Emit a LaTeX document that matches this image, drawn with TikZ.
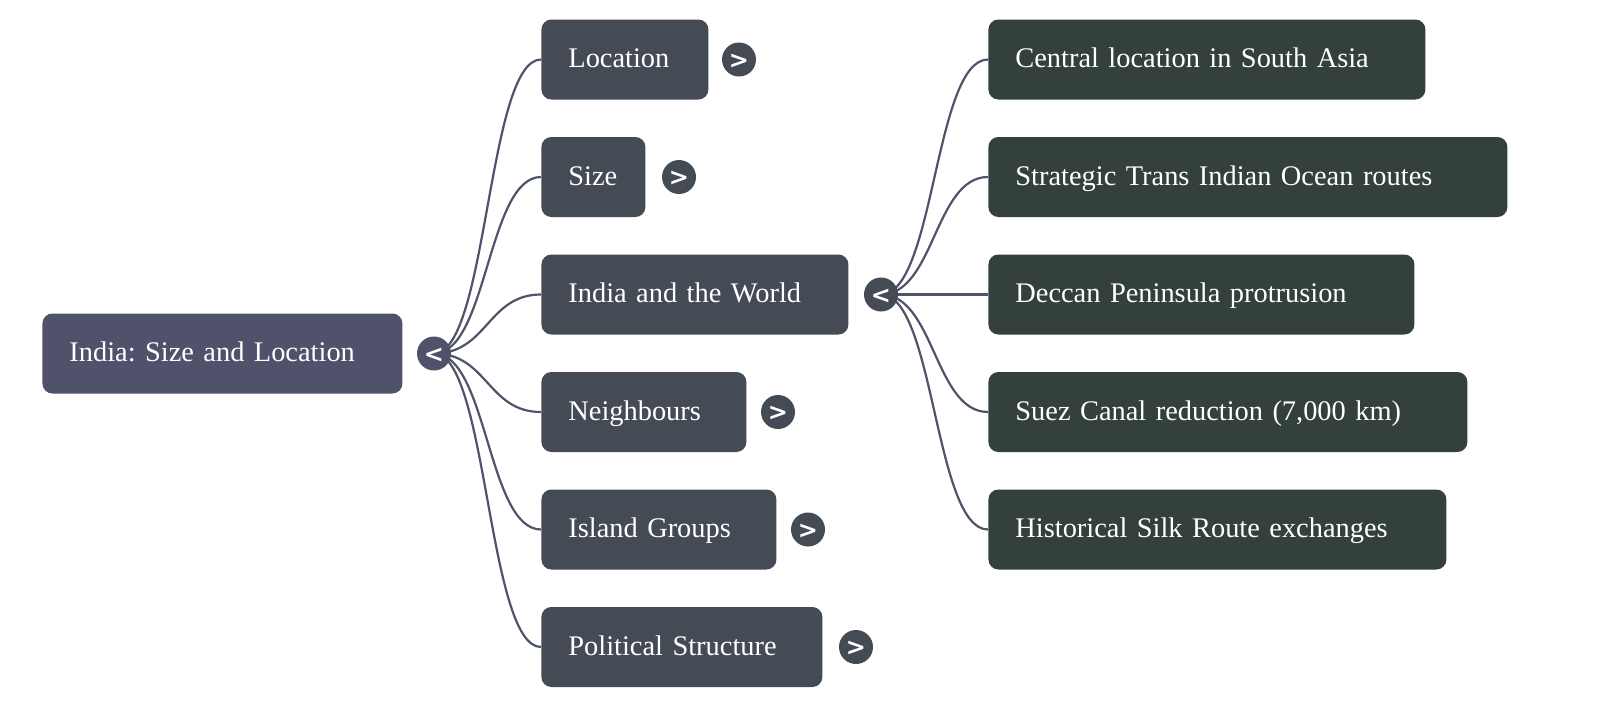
\documentclass[tikz,border=0pt]{standalone}
\usepackage{fontspec}
\setmainfont{Liberation Serif}
\setsansfont{DejaVu Sans}
\definecolor{rootcol}{HTML}{50516A}
\definecolor{onecol}{HTML}{444B55}
\definecolor{twocol}{HTML}{33403C}
\definecolor{linkcol}{HTML}{50536A}
\frenchspacing

\begin{document}
\begin{tikzpicture}[x=0.5pt, y=-0.5pt,
    box/.style={rectangle, rounded corners=5pt, anchor=west, minimum height=40pt,
        inner xsep=13.5pt, inner ysep=0pt, align=left, text=white,
        text height=10.8pt, text depth=2.6pt,
        font=\fontsize{14.2}{17}\selectfont},
    rootbox/.style={box, fill=rootcol},
    onebox/.style={box, fill=onecol},
    twobox/.style={box, fill=twocol},
    toggle/.style={circle, fill=onecol, minimum size=17pt, inner sep=0pt, text=white,
        text height=8.9pt, text depth=0pt,
        font=\sffamily\bfseries\fontsize{12}{12}\selectfont},
    link/.style={draw=linkcol, line width=1.1pt}]
  \useasboundingbox (0,0) rectangle (1600,707);

  % root
  \node[rootbox, text width=153pt] (root) at (42,353.5) {India: Size and Location};

  % first level
  \node[onebox, text width=56.5pt]  (loc)   at (541,59.5)  {Location};
  \node[onebox, text width=25pt]    (size)  at (541,177)   {Size};
  \node[onebox, text width=126.5pt] (world) at (541,294.5) {India and the World};
  \node[onebox, text width=75.5pt]  (nbr)   at (541,412)   {Neighbours};
  \node[onebox, text width=90.5pt]  (isl)   at (541,529.5) {Island Groups};
  \node[onebox, text width=113.5pt] (pol)   at (541,647)   {Political Structure};

  % second level
  \node[twobox, text width=191.5pt] (cen) at (988,59.5)  {Central location in South Asia};
  \node[twobox, text width=232.5pt] (str) at (988,177)   {Strategic Trans Indian Ocean routes};
  \node[twobox, text width=186pt]   (dec) at (988,294.5) {Deccan Peninsula protrusion};
  \node[twobox, text width=212.5pt] (sue) at (988,412)   {Suez Canal reduction (7,000 km)};
  \node[twobox, text width=202pt]   (his) at (988,529.5) {Historical Silk Route exchanges};

  \coordinate (tr) at (434,353.5);
  \coordinate (tw) at (881,294.5);

  \foreach \n in {loc,size,world,nbr,isl,pol}
    \draw[link] (tr) .. controls +(53.5,0) and +(-53.5,0) .. (\n.west);
  \foreach \n in {cen,str,dec,sue,his}
    \draw[link] (tw) .. controls +(53.5,0) and +(-53.5,0) .. (\n.west);

  % toggles
  \node[toggle, fill=rootcol] (troot) at (tr) {<};
  \node[toggle] (tworld) at (tw) {<};
  \node[toggle] (tloc)  at (739,59.5)  {>};
  \node[toggle] (tsize) at (679,177)   {>};
  \node[toggle] (tnbr)  at (778,412)   {>};
  \node[toggle] (tisl)  at (808,529.5) {>};
  \node[toggle] (tpol)  at (856,647)   {>};
\end{tikzpicture}
\end{document}
